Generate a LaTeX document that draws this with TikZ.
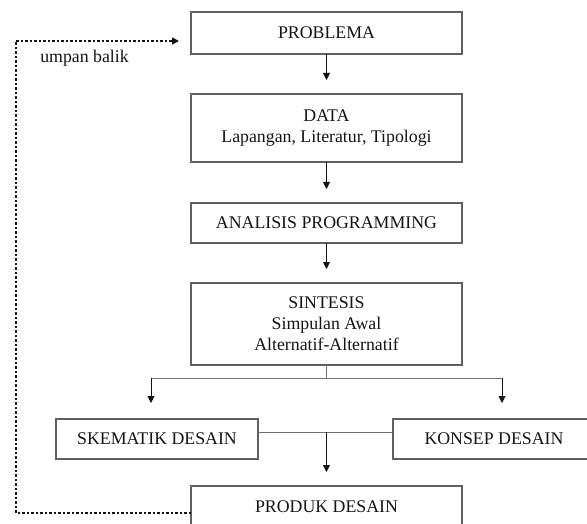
\documentclass[tikz,border=0pt]{standalone}
\usepackage{fontspec}
\setmainfont{Liberation Serif}
\usepackage{xcolor}
\usetikzlibrary{arrows.meta,calc,positioning}
\definecolor{flowBorder}{HTML}{606060}
\definecolor{flowInk}{HTML}{141414}
\definecolor{flowLink}{HTML}{707070}

\begin{document}
\begin{tikzpicture}[x=1pt,y=-1pt,
    every node/.style={font=\fontsize{17.8}{21}\selectfont, text=flowInk},
    mainbox/.style={draw=flowBorder, line width=1.4pt, minimum width=271pt, inner sep=0pt, outer sep=0pt, align=center},
    sidebox/.style={draw=flowBorder, line width=1.4pt, minimum width=202pt, minimum height=40pt, inner sep=0pt, outer sep=0pt},
    flowarrow/.style={draw=flowInk, line width=0.9pt, -{Triangle[length=7pt,width=7pt]}, shorten >=14pt},
    feedback/.style={draw=flowInk, line width=1.6pt, dash pattern=on 2.5pt off 2pt, -{Triangle[length=7pt,width=7pt]}, shorten >=12pt}]
    \useasboundingbox (0,0) rectangle (587,524);
    \node[mainbox, minimum height=42pt] (problema) at (326.5,33) {PROBLEMA};
    \node[mainbox, minimum height=68pt] (data) at (326.5,128) {DATA\\Lapangan, Literatur, Tipologi};
    \node[mainbox, minimum height=40pt] (analisis) at (326.5,223) {ANALISIS PROGRAMMING};
    \node[mainbox, minimum height=82pt] (sintesis) at (326.5,324) {SINTESIS\\Simpulan Awal\\Alternatif-Alternatif};
    \node[sidebox] (skematik) at (157,439) {SKEMATIK DESAIN};
    \node[sidebox] (konsep) at (494,439) {KONSEP DESAIN};
    \node[mainbox, minimum height=41pt] (produk) at (326.5,506.5) {PRODUK DESAIN};
    \node (umpan) at (84.5,58) {umpan balik};
    \coordinate (split) at (326.5,378);
    \coordinate (splitL) at (151,378);
    \coordinate (splitR) at (502,378);
    \coordinate (join) at (326.5,432);
    \draw[flowarrow] (problema) -- (data);
    \draw[flowarrow] (data) -- (analisis);
    \draw[flowarrow] (analisis) -- (sintesis);
    \draw[flowLink, line width=0.9pt] (sintesis.south) -- (split);
    \draw[flowLink, line width=0.9pt] (splitL) -- (splitR);
    \draw[flowarrow, shorten >=16pt] (splitL) -- (splitL |- skematik.north);
    \draw[flowarrow, shorten >=16pt] (splitR) -- (splitR |- konsep.north);
    \draw[flowLink, line width=0.9pt] ([yshift=7pt]skematik.east) -- ([yshift=7pt]konsep.west);
    \draw[flowarrow] (join) -- (produk.north);
    \draw[feedback] ([yshift=-6.5pt]produk.west) -- ++(-175.3,0) |- ([yshift=-8pt]problema.west);
\end{tikzpicture}
\end{document}
